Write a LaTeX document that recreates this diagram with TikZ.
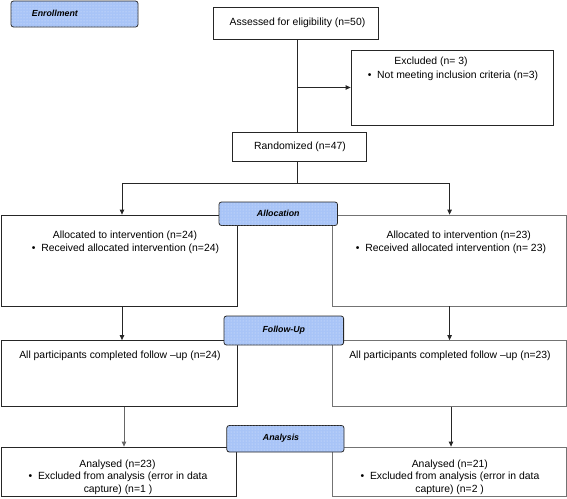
\documentclass[tikz,border=0pt]{standalone}
\usepackage{fontspec}
\setmainfont{Liberation Sans}
\usetikzlibrary{arrows.meta,patterns}
\definecolor{labblue}{RGB}{168,196,247}
\begin{document}
\begin{tikzpicture}[x=1pt,y=-1pt,
  box/.style={draw=black!85,line width=0.8pt,inner sep=0pt},
  gbox/.style={box,draw=black!55},
  lab/.style={draw=black!85,fill=labblue,rounded corners=2.5pt,line width=0.8pt,inner sep=0pt,font=\fontsize{8.8}{10}\selectfont\bfseries\itshape,
    postaction={pattern=dots,pattern color=labblue!40!white}},
  labtext/.style={inner sep=0pt,font=\fontsize{8.8}{10}\selectfont\bfseries\itshape},
  txt/.style={font=\fontsize{10.4}{12.5}\selectfont,align=center,inner sep=0pt},
  ln/.style={line width=0.8pt,draw=black!85},
  arr/.style={ln,-{Triangle[length=5pt,width=4.5pt]}}]
\useasboundingbox (0,0) rectangle (567,498);
% boxes
\node[box,minimum width=165pt,minimum height=32pt] (a) at (296,23.5) {};
\node[box,minimum width=202pt,minimum height=75pt] (ex) at (452,87.5) {};
\node[box,minimum width=134pt,minimum height=29pt] (r) at (299,146.5) {};
\node[box,minimum width=236.5pt,minimum height=91pt] (alL) at (119.25,260.5) {};
\node[gbox,minimum width=233.5pt,minimum height=91pt] (alR) at (449.25,260.5) {};
\node[box,minimum width=236.5pt,minimum height=66pt] (fuL) at (119.25,373.5) {};
\node[gbox,minimum width=233.5pt,minimum height=66pt] (fuR) at (449.25,373.5) {};
\node[box,minimum width=235.5pt,minimum height=49.5pt] (anL) at (118.75,471.75) {};
\node[gbox,minimum width=233.5pt,minimum height=49.5pt] (anR) at (449.25,471.75) {};
% texts
\node[txt] (at) at (297.5,22.5) {Assessed for eligibility (n=50)};
\node[txt] (ext1) at (431,61.7) {Excluded (n= 3)};
\node[txt] (ext2) at (453,76) {\textbullet\ \ Not meeting inclusion criteria (n=3)};
\node[txt] (rt) at (300,146.5) {Randomized (n=47)};
\node[txt] (alLt1) at (125,236) {Allocated to intervention (n=24)};
\node[txt] (alLt2) at (125.5,249) {\textbullet\ \ Received allocated intervention (n=24)};
\node[txt] (alRt1) at (458.7,236) {Allocated to intervention (n=23)};
\node[txt] (alRt2) at (451,249) {\textbullet\ \ Received allocated intervention (n= 23)};
\node[txt] (fuLt) at (120,356) {All participants completed follow –up (n=24)};
\node[txt] (fuRt) at (450,356) {All participants completed follow –up (n=23)};
\node[txt] (anLt1) at (117.5,464.6) {Analysed (n=23)};
\node[txt] (anLt2) at (118,477.2) {\textbullet\ \ Excluded from analysis (error in data};
\node[txt] (anLt3) at (118,489.8) {capture) (n=1 )};
\node[txt] (anRt1) at (449.8,464.6) {Analysed (n=21)};
\node[txt] (anRt2) at (450,477.2) {\textbullet\ \ Excluded from analysis (error in data};
\node[txt] (anRt3) at (449.7,489.8) {capture) (n=2 )};
% connectors
\coordinate (vx) at (297.5,0);
\coordinate (split) at (297.5,183);
\coordinate (lx) at (122,0);
\coordinate (rx) at (449.6,0);
\coordinate (lx2) at (124,0);
\coordinate (rx2) at (451,0);
\draw[ln] (a.south -| vx) -- (r.north -| vx);
\draw[arr] (ex.west -| vx) -- (ex.west);
\draw[ln] (r.south -| vx) -- (split);
\draw[arr] (split) -| (lx |- alL.north);
\draw[arr] (split) -| (rx |- alR.north);
\draw[arr] (alL.south -| lx) -- (fuL.north -| lx);
\draw[arr] (alR.south -| rx) -- (fuR.north -| rx);
\draw[arr,draw=black!60] (fuL.south -| lx2) -- (anL.north -| lx2);
\draw[arr] (fuR.south -| rx2) -- (anR.north -| rx2);
% stage labels
\node[lab,minimum width=127pt,minimum height=26pt] (enr) at (74.5,14) {};
\node[labtext,anchor=west] (enrt) at (31.7,13.5) {Enrollment};
\node[lab,minimum width=118.5pt,minimum height=23.5pt] (alc) at (278.25,213.75) {};
\node[labtext] (alct) at (278.25,213.75) {Allocation};
\node[lab,minimum width=119.6pt,minimum height=29pt] (fol) at (283.8,330.5) {};
\node[labtext] (folt) at (283.8,330) {Follow-Up};
\node[lab,minimum width=117.2pt,minimum height=26.5pt] (ana) at (285.4,438.75) {};
\node[labtext] (anat) at (281,438.5) {Analysis};
\end{tikzpicture}
\end{document}
